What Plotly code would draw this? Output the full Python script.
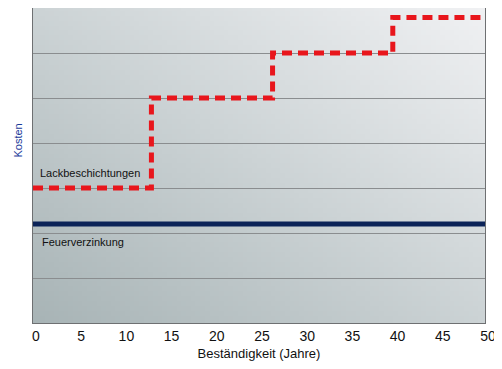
import base64, struct, zlib
import plotly.graph_objects as go

# ---- data ----
years_coat = [0, 13.1, 26.5, 39.8, 50]
cost_coat = [3.0, 5.0, 6.0, 6.79, 6.79]
years_galv = [0, 50]
cost_galv = [2.2, 2.2]
x_ticks = [0, 5, 10, 15, 20, 25, 30, 35, 40, 45, 50]
label_coat = "Lackbeschichtungen"
label_galv = "Feuerverzinkung"

# ---- gradient background image (diagonal) ----
def gradient_png(w, h):
    bl = (168, 180, 182)
    mid = (204, 211, 213)
    tr = (240, 241, 243)
    rows = []
    for j in range(h):
        row = bytearray([0])
        for i in range(w):
            u = (i / (w - 1) + (1 - j / (h - 1))) / 2
            if u < 0.5:
                t = u / 0.5
                c = [round(bl[k] + (mid[k] - bl[k]) * t) for k in range(3)]
            else:
                t = (u - 0.5) / 0.5
                c = [round(mid[k] + (tr[k] - mid[k]) * t) for k in range(3)]
            row += bytes(c)
        rows.append(bytes(row))
    raw = b"".join(rows)
    def chunk(tag, data):
        c = struct.pack(">I", len(data)) + tag + data
        return c + struct.pack(">I", zlib.crc32(tag + data) & 0xffffffff)
    png = b"\x89PNG\r\n\x1a\n"
    png += chunk(b"IHDR", struct.pack(">IIBBBBB", w, h, 8, 2, 0, 0, 0))
    png += chunk(b"IDAT", zlib.compress(raw, 9))
    png += chunk(b"IEND", b"")
    return "data:image/png;base64," + base64.b64encode(png).decode()

bg = gradient_png(96, 64)

fig = go.Figure()
fig.add_trace(go.Scatter(
    x=years_galv, y=cost_galv, mode="lines",
    line=dict(color="#0b2358", width=5), hoverinfo="skip", showlegend=False))
fig.add_trace(go.Scatter(
    x=years_coat, y=cost_coat, mode="lines", line_shape="hv",
    line=dict(color="#e8161c", width=5, dash="10px,6px"), hoverinfo="skip", showlegend=False))

fig.add_layout_image(dict(source=bg, xref="paper", yref="paper", x=0, y=1,
                          sizex=1, sizey=1, sizing="stretch", layer="below"))

fig.add_annotation(x=0, y=3.0, xref="x", yref="y", xanchor="left", yanchor="bottom",
                   xshift=5, yshift=7, text=label_coat, showarrow=False,
                   font=dict(family="Liberation Sans, Arial", size=11, color="#111"))
fig.add_annotation(x=0, y=1.8, xref="x", yref="y", xanchor="left", yanchor="middle",
                   xshift=7, text=label_galv, showarrow=False,
                   font=dict(family="Liberation Sans, Arial", size=11, color="#111"))
fig.add_annotation(x=0, y=(323 - 140) / 316, xref="paper", yref="paper", xshift=-15,
                   xanchor="center", yanchor="middle", text="Kosten",
                   showarrow=False, textangle=-90,
                   font=dict(family="Liberation Sans, Arial", size=11, color="#1a3a9a"))

fig.update_layout(
    width=494, height=361,
    margin=dict(l=25, r=17, t=0, b=46, autoexpand=False),
    paper_bgcolor="white", plot_bgcolor="rgba(0,0,0,0)",
    font=dict(family="Liberation Sans, Arial", color="#111"),
    xaxis=dict(range=[0, 50], tickvals=x_ticks, showgrid=False, zeroline=False,
               showline=True, mirror=True, linecolor="#6e7072", linewidth=1,
               ticks="", tickfont=dict(size=14, color="#111"), ticklabelshift=3,
               title=dict(text="Beständigkeit (Jahre)", font=dict(size=13, color="#111"), standoff=6)),
    yaxis=dict(range=[0, 7], dtick=1, showgrid=True, gridcolor="#8a8d8f", gridwidth=1,
               zeroline=False, showticklabels=False, ticks="",
               showline=True, mirror=True, linecolor="#6e7072", linewidth=1),
)

fig.write_html("out.html")
